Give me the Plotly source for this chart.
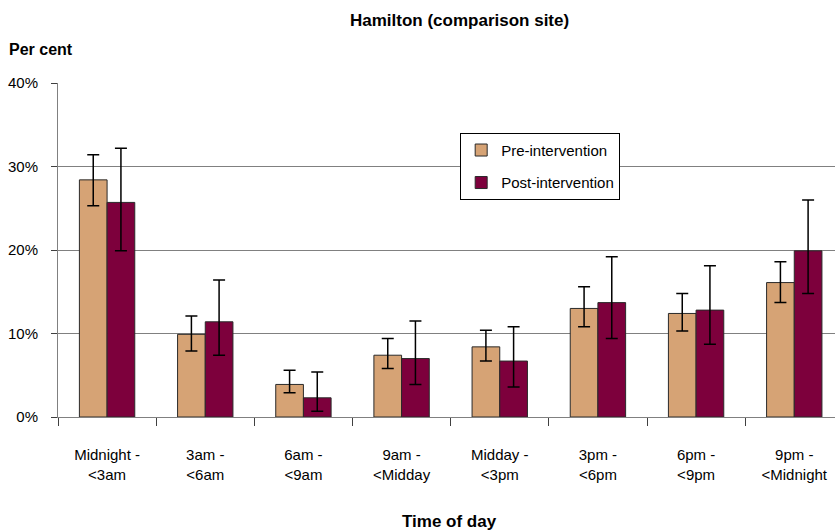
import plotly.graph_objects as go

# Time-of-day categories (x axis labels)
categories = [
    "Midnight -<br><3am", "3am -<br><6am", "6am -<br><9am", "9am -<br><Midday",
    "Midday -<br><3pm", "3pm -<br><6pm", "6pm -<br><9pm", "9pm -<br><Midnight",
]

# Percentages and confidence limits
pre_values = [28.4, 9.9, 3.9, 7.4, 8.4, 13.0, 12.4, 16.1]
pre_upper = [31.4, 12.1, 5.6, 9.4, 10.4, 15.6, 14.8, 18.6]
pre_lower = [25.3, 7.9, 2.9, 5.8, 6.7, 10.8, 10.3, 13.7]

post_values = [25.7, 11.4, 2.3, 7.0, 6.7, 13.7, 12.8, 19.9]
post_upper = [32.2, 16.4, 5.4, 11.5, 10.8, 19.2, 18.1, 26.0]
post_lower = [19.9, 7.4, 0.7, 3.9, 3.6, 9.4, 8.7, 14.8]

y_ticks = [0, 10, 20, 30, 40]
y_tick_text = ["0%", "10%", "20%", "30%", "40%"]

FONT = "Liberation Sans, Arial, sans-serif"


def err(values, upper, lower):
    return dict(
        type="data",
        symmetric=False,
        array=[u - v for u, v in zip(upper, values)],
        arrayminus=[v - l for v, l in zip(values, lower)],
        color="black",
        thickness=1.5,
        width=6,
    )


fig = go.Figure()
fig.add_trace(go.Bar(
    x=categories, y=pre_values, name="Pre-intervention",
    marker=dict(color="#D6A375", line=dict(color="#2a2a2a", width=1)),
    error_y=err(pre_values, pre_upper, pre_lower),
    legendgroup="pre",
))
fig.add_trace(go.Bar(
    x=categories, y=post_values, name="Post-intervention",
    marker=dict(color="#7D003C", line=dict(color="#2a2a2a", width=1)),
    error_y=err(post_values, post_upper, post_lower),
    legendgroup="post",
))

fig.update_layout(
    width=835, height=530,
    margin=dict(l=58, r=0, t=83, b=113),
    paper_bgcolor="white", plot_bgcolor="white",
    barmode="group", bargap=0.436, bargroupgap=0,
    font=dict(family=FONT, size=15, color="black"),
    showlegend=True,
    legend=dict(
        x=0.5176, y=0.851, xanchor="left", yanchor="top",
        bordercolor="black", borderwidth=1, bgcolor="white",
        font=dict(size=15), tracegroupgap=10,
        itemclick=False,
    ),
    xaxis=dict(
        type="category", range=[-0.5, 7.415],
        showline=True, linecolor="#808080", linewidth=1,
        ticks="outside", tickson="boundaries", ticklen=8,
        tickcolor="#404040", tickwidth=1,
        showgrid=False, tickfont=dict(size=15),
        ticklabelstandoff=24,
    ),
    yaxis=dict(
        range=[0, 40], tickvals=y_ticks, ticktext=y_tick_text,
        showline=True, linecolor="#808080", linewidth=1,
        ticks="outside", ticklen=6, tickcolor="#404040",
        showgrid=True, gridcolor="#808080", gridwidth=1,
        zeroline=False, tickfont=dict(size=15),
        ticklabelstandoff=10,
    ),
    annotations=[
        dict(text="<b>Hamilton (comparison site)</b>", xref="paper", yref="paper",
             x=(459 - 58) / 777, y=1 + (83 - 21) / 334, xanchor="center", yanchor="middle",
             showarrow=False, font=dict(size=17)),
        dict(text="<b>Per cent</b>", xref="paper", yref="paper",
             x=-51 / 777, y=1 + (83 - 50) / 334, xanchor="left", yanchor="middle",
             showarrow=False, font=dict(size=16)),
        dict(text="<b>Time of day</b>", xref="paper", yref="paper",
             x=(450 - 58) / 777, y=-(521 - 417) / 334, xanchor="center", yanchor="middle",
             showarrow=False, font=dict(size=17)),
    ],
)

fig.write_html("out.html")
